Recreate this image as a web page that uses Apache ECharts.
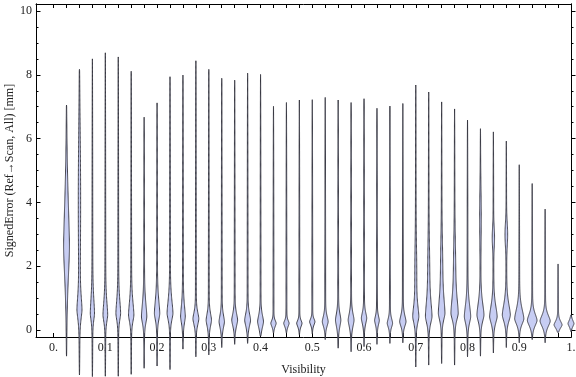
<!DOCTYPE html>
<html>
<head>
<meta charset="utf-8">
<script src="https://cdn.jsdelivr.net/npm/echarts@6/dist/echarts.min.js"></script>
<style>
  html, body { margin: 0; padding: 0; background: #fff; }
  #chart { width: 576px; height: 377px; }
</style>
</head>
<body>
<div id="chart"></div>
<script>
// one violin per visibility bin
const visibility = [0.025, 0.05, 0.075, 0.1, 0.125, 0.15, 0.175, 0.2, 0.225, 0.25,
    0.275, 0.3, 0.325, 0.35, 0.375, 0.4, 0.425, 0.45, 0.475, 0.5,
    0.525, 0.55, 0.575, 0.6, 0.625, 0.65, 0.675, 0.7, 0.725, 0.75,
    0.775, 0.8, 0.825, 0.85, 0.875, 0.9, 0.925, 0.95, 0.975, 1.0];

const maxErr = [7.05, 8.17, 8.5, 8.69, 8.56, 8.11, 6.67, 7.12, 7.94, 7.99,
    8.44, 8.17, 7.89, 7.83, 8.05, 8.01, 7.01, 7.13, 7.21, 7.22,
    7.29, 7.21, 7.13, 7.25, 6.95, 7.02, 7.1, 7.68, 7.46, 7.15,
    6.93, 6.58, 6.31, 6.21, 5.92, 5.18, 4.59, 3.79, 2.07, 0.47];

const minErr = [-0.82, -1.41, -1.46, -1.45, -1.45, -1.39, -1.2, -1.13, -1.24, -0.6,
    -0.84, -0.78, -0.55, -0.45, -0.42, -0.2, -0.1, -0.1, -0.15, -0.12,
    -0.3, -0.57, -0.68, -0.52, -0.45, -0.42, -0.4, -1.16, -1.1, -1.05,
    -1.1, -0.84, -0.82, -0.72, -0.55, -0.4, -0.3, -0.4, -0.08, -0.05];

// mode of each distribution and its shape (relative density, spread above / below)
const peakAt = [2.6, 0.63, 0.52, 0.47, 0.52, 0.47, 0.42, 0.52, 0.52, 0.42,
    0.35, 0.31, 0.26, 0.31, 0.31, 0.26, 0.21, 0.21, 0.21, 0.26,
    0.26, 0.31, 0.31, 0.37, 0.3, 0.21, 0.26, 0.42, 0.42, 0.52,
    0.52, 0.42, 0.47, 0.42, 0.47, 0.35, 0.3, 0.28, 0.16, 0.2];

const peakDensity = [3, 2.3, 2.0, 2.3, 2.3, 2.7, 2.7, 2.7, 3, 2.3,
    3, 2.7, 2.7, 3, 3, 3, 2.7, 2.7, 2.7, 2.7,
    3, 2.7, 3, 2.7, 2.3, 2.7, 3.3, 3, 3.3, 3.3,
    3.7, 3.3, 3.7, 4, 4.3, 5, 5.3, 5.6, 4.3, 3];

const spreadUp = [2.0, 0.6, 0.68, 0.6, 0.6, 0.6, 0.6, 0.6, 0.6, 0.5,
    0.3, 0.3, 0.3, 0.3, 0.3, 0.3, 0.13, 0.13, 0.13, 0.13,
    0.25, 0.3, 0.3, 0.25, 0.2, 0.21, 0.28, 0.49, 0.68, 0.7,
    0.7, 0.55, 0.55, 0.5, 0.5, 0.45, 0.3, 0.27, 0.17, 0.15];

const spreadDown = [1.4, 0.4, 0.31, 0.3, 0.3, 0.3, 0.3, 0.3, 0.3, 0.3,
    0.28, 0.28, 0.28, 0.28, 0.28, 0.28, 0.15, 0.15, 0.15, 0.15,
    0.21, 0.3, 0.3, 0.25, 0.2, 0.18, 0.21, 0.3, 0.3, 0.3,
    0.3, 0.3, 0.3, 0.3, 0.3, 0.25, 0.25, 0.25, 0.15, 0.14];

// secondary hump higher up in some bins
const upperAt = [0, 4.2, 0, 0, 0, 0, 0, 0, 0, 0,
    0, 0, 0, 0, 0, 0, 0, 0, 0, 0,
    0, 0, 0, 0, 0, 0, 0, 1.8, 1.9, 2.0,
    2.0, 0, 3.6, 2.9, 3.0, 0, 0, 0, 0, 0];
const upperSpread = [1, 2.0, 1, 1, 1, 1, 1, 1, 1, 1,
    1, 1, 1, 1, 1, 1, 1, 1, 1, 1,
    1, 1, 1, 1, 1, 1, 1, 0.8, 0.8, 0.8,
    0.8, 1, 0.8, 0.3, 0.35, 1, 1, 1, 1, 1];
const upperDensity = [0, 1.0, 0, 0, 0, 0, 0, 0, 0, 0,
    0, 0, 0, 0, 0, 0, 0, 0, 0, 0,
    0, 0, 0, 0, 0, 0, 0, 0.7, 0.7, 0.8,
    0.8, 0, 0.6, 1.0, 1.2, 0, 0, 0, 0, 0];

const xLabelValues = [0, 0.1, 0.2, 0.3, 0.4, 0.5, 0.6, 0.7, 0.8, 0.9, 1.0];
const xLabels = ["0.", "0.1", "0.2", "0.3", "0.4", "0.5", "0.6", "0.7", "0.8", "0.9", "1."];
const xTickValues = [0].concat(visibility);
const yLabelValues = [0, 2, 4, 6, 8, 10];
const yMinorValues = [0, 0.5, 1, 1.5, 2, 2.5, 3, 3.5, 4, 4.5, 5, 5.5, 6, 6.5, 7, 7.5, 8, 8.5, 9, 9.5, 10];

const WIDTH_SCALE = 0.0016; // density unit -> visibility units
const TAIL = 0.55;
const FONT = "Liberation Serif";

function halfWidth(i, y) {
    const lo = minErr[i], hi = maxErr[i], mu = peakAt[i];
    if (y <= lo || y >= hi) return 0;
    const s = y > mu ? spreadUp[i] : spreadDown[i];
    let w = peakDensity[i] * Math.exp(-Math.pow(Math.abs(y - mu) / s, 1.6));
    if (upperDensity[i] > 0) {
        const u = (y - upperAt[i]) / upperSpread[i];
        w += upperDensity[i] * Math.exp(-0.5 * u * u);
    }
    const t = y > mu ? (hi - y) / (hi - mu) : (y - lo) / (mu - lo);
    w += TAIL * Math.sqrt(Math.max(t, 0));
    return w * WIDTH_SCALE;
}

function renderViolin(params, api) {
    const x = api.value(0);
    const i = api.value(1);
    const lo = minErr[i], hi = maxErr[i];
    const n = 240;
    const right = [], left = [];
    for (let k = 0; k <= n; k++) {
        const y = lo + (hi - lo) * k / n;
        const hw = halfWidth(i, y);
        right.push(api.coord([x + hw, y]));
        left.push(api.coord([x - hw, y]));
    }
    const points = right.concat(left.reverse());
    return {
        type: "polygon",
        shape: { points: points },
        style: {
            fill: "#c7cdf3",
            stroke: "rgba(50,50,60,0.9)",
            lineWidth: 1
        }
    };
}

const axisLineStyle = { show: true, onZero: false, lineStyle: { color: "#000", width: 1 } };

function yAxisDef(position, values, length, labels) {
    return {
        type: "value",
        position: position,
        min: -0.22,
        max: 10.22,
        name: labels ? "SignedError (Ref\u2192Scan, All) [mm]" : "",
        nameLocation: "middle",
        nameGap: 20,
        nameMoveOverlap: false,
        nameTextStyle: { fontFamily: FONT, fontSize: 12, color: "#222" },
        axisLine: axisLineStyle,
        axisTick: { show: true, inside: position === "left", length: length, customValues: values, lineStyle: { color: "#000" } },
        axisLabel: labels ? { show: true, customValues: values, margin: 4, fontFamily: FONT, fontSize: 12, color: "#222" } : { show: false },
        splitLine: { show: false }
    };
}

const chart = echarts.init(document.getElementById("chart"));

chart.setOption({
    animation: false,
    grid: { left: 36, right: 5, top: 4, bottom: 40, containLabel: false, outerBoundsMode: "none" },
    xAxis: [
        {
            type: "value",
            position: "bottom",
            min: -0.034,
            max: 1.0,
            name: "Visibility",
            nameLocation: "middle",
            nameGap: 27,
            nameTextStyle: { fontFamily: FONT, fontSize: 12, color: "#222" },
            axisLine: axisLineStyle,
            axisTick: { show: true, inside: true, length: 4, customValues: xTickValues, lineStyle: { color: "#000" } },
            axisLabel: {
                customValues: xLabelValues,
                margin: 5,
                fontFamily: FONT,
                fontSize: 12,
                color: "#222",
                formatter: function (v) {
                    return xLabels[Math.round(v * 10)];
                }
            },
            splitLine: { show: false }
        },
        {
            type: "value",
            position: "top",
            min: -0.034,
            max: 1.0,
            axisLine: axisLineStyle,
            axisTick: { show: true, inside: true, length: 4, customValues: xTickValues, lineStyle: { color: "#000" } },
            axisLabel: { show: false },
            splitLine: { show: false }
        }
    ],
    yAxis: [
        yAxisDef("left", yLabelValues, 4.5, true),
        yAxisDef("left", yMinorValues, 2.5, false),
        yAxisDef("right", yLabelValues, 4.5, false),
        yAxisDef("right", yMinorValues, 2.5, false)
    ],
    series: [
        {
            type: "custom",
            clip: false,
            renderItem: renderViolin,
            data: visibility.map(function (v, i) { return [v, i]; })
        }
    ]
});
</script>
</body>
</html>
